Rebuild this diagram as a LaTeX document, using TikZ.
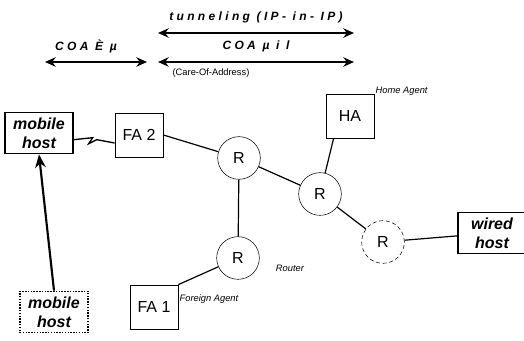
\documentclass[tikz,border=0pt]{standalone}
\usepackage{fontspec}
\setmainfont{Liberation Sans}
\usetikzlibrary{arrows.meta}

\tikzset{
  hostbox/.style={draw, line width=1.1pt, minimum width=51pt, minimum height=31pt, inner sep=1pt, align=center, font=\bfseries\itshape\large},
  agentbox/.style={draw, line width=0.6pt, minimum width=36pt, minimum height=33pt, font=\large},
  router/.style={circle, draw, line width=0.4pt, minimum size=32pt, inner sep=0pt, font=\large},
  note/.style={font=\itshape\scriptsize, inner sep=0.75pt},
  spanlabel/.style={font=\bfseries\itshape\small, inner sep=0.75pt},
  span/.style={line width=1.4pt, {Stealth[length=8pt,width=7pt]}-{Stealth[length=8pt,width=7pt]}},
  link/.style={line width=0.9pt}
}

\begin{document}
\begin{tikzpicture}[x=0.75pt,y=0.75pt,yscale=-1,xscale=1]
\useasboundingbox (0,0) rectangle (524,341);

% spans at the top
\coordinate (sa) at (45,62);
\coordinate (sb) at (147,62);
\coordinate (ta) at (158,33);
\coordinate (tb) at (354,33);
\coordinate (ca) at (158,62);
\coordinate (cb) at (354,62);
\draw [span] (sa) -- (sb) ;
\draw [span] (ta) -- (tb) ;
\draw [span] (ca) -- (cb) ;

% Text Node
\node [spanlabel] (coanew) at (86,46) {C O A \ È \ µ};
% Text Node
\node [spanlabel] (tunnel) at (256,17) {t u n n e l i n g \ ( I P - \ i n - \ I P )};
% Text Node
\node [spanlabel] (coaold) at (256,46) {C O A \ µ \ i \ l};
% Text Node
\node [font=\scriptsize, inner sep=0.75pt] (careof) at (211,73) {(Care-Of-Address)};

% hosts, agents, routers
\node [hostbox] (mh) at (39,133) {mobile\\host};
\node [hostbox, densely dotted] (mhold) at (54,312) {mobile\\host};
\node [hostbox] (wh) at (492,233) {wired\\host};
\node [agentbox] (fa2) at (139,135) {FA 2};
\node [agentbox] (fa1) at (154,307) {FA 1};
\node [agentbox] (ha) at (350,116) {HA};
\node [router] (r1) at (239,158) {R};
\node [router] (r2) at (320,194) {R};
\node [router, densely dashed] (r3) at (383,242) {R};
\node [router] (r4) at (238,258) {R};

% Text Node
\node [note, anchor=west] (hatext) at ([yshift=-2pt]ha.north east) {Home Agent};
% Text Node
\node [note, anchor=west] (fatext) at ([yshift=-6pt]fa1.east) {Foreign Agent};
% Text Node
\node [note] (rtext) at (290,268) {Router};

% links
\draw [link] (fa2.east) -- (r1) ;
\draw [link] (r1) -- (r2) ;
\draw [link] (r1) -- (r4) ;
\draw [link] (r4) -- (fa1.north east) ;
\draw [link] (ha.south west) ++(8,0) -- (r2) ;
\draw [link] (r2) -- (r3) ;
\draw [link] (r3) -- (wh) ;

% wireless link
\draw [line width=1pt] ([yshift=5pt]mh.east) -- ++(19,-2) -- ++(-4,6) -- ++(8,-4) -- ([yshift=6pt]fa2.west) ;

% move of the mobile host
\draw [line width=1.6pt, -{Stealth[length=10pt,width=8pt]}] (mhold.north) -- (mh.south) ;

\end{tikzpicture}
\end{document}
